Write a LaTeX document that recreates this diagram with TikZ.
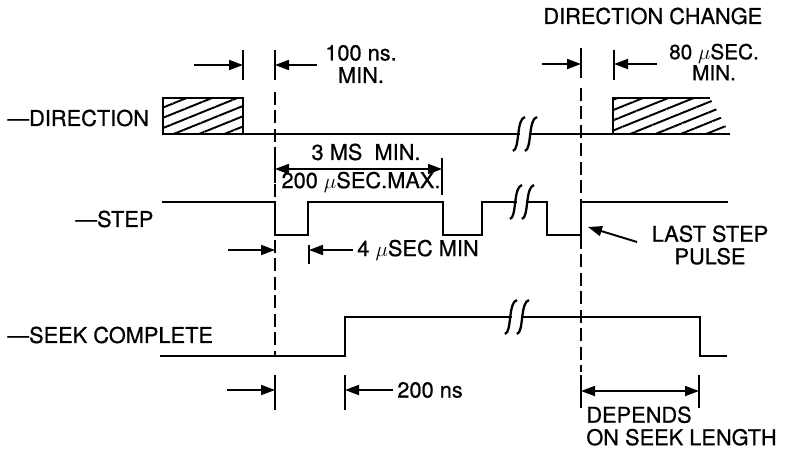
\documentclass[tikz,border=0pt]{standalone}
\usepackage{fontspec}
\setmainfont{TeX Gyre Heros}[FakeBold=0.7]
\usepackage{tikz}
\usetikzlibrary{arrows.meta}
\usetikzlibrary{patterns.meta}
\tikzset{
 sig/.style = {line width=1.3pt},
 tick/.style = {line width=1.3pt},
 guide/.style = {line width=1.3pt, dash pattern=on 0.26cm off 0.11cm},
 dimto/.style = {line width=1.1pt, -{Triangle[length=0.28cm,width=0.2cm]}},
 dimboth/.style = {line width=1.1pt, {Triangle[length=0.28cm,width=0.2cm]}-{Triangle[length=0.28cm,width=0.2cm]}},
 lbl/.style = {font=\fontsize{12.4}{12.8}\selectfont, inner sep=0pt},
 hatched/.style = {pattern={Lines[angle=22,distance=0.19cm,line width=1.1pt]}}
}
\newcommand*{\sigbreak}[2]{
 \fill[white] ({#1+1},{#2-3}) rectangle ({#1+11},{#2+3});
 \draw[sig] ({#1-6},{#2+17}) .. controls ({#1+1},{#2+15}) and ({#1-3},{#2-15}) .. ({#1+6},{#2-17});
 \draw[sig] ({#1+6},{#2+17}) .. controls ({#1+13},{#2+15}) and ({#1+9},{#2-15}) .. ({#1+18},{#2-17});
}

\begin{document}
\begin{tikzpicture}[x=0.02cm, y=-0.02cm]
\useasboundingbox (0,0) rectangle (787,450);

\node[lbl, anchor=west] (dirlbl) at (7,118) {—DIRECTION};
\node[lbl, anchor=west] (steplbl) at (75,219) {—STEP};
\node[lbl, anchor=west] (seeklbl) at (7,335) {—SEEK COMPLETE};

\fill[hatched] (163,98) rectangle (243,134);
\draw[sig] (163,98) rectangle (243,134);
\fill[hatched] (613,134) -- (613,98) -- (710,98) -- (730,134) -- cycle;
\draw[sig] (613,134) -- (613,98) -- (710,98);
\draw[sig] (163,134) -- (730,134);
\sigbreak{519}{134}

\draw[sig] (162,202) -| (275,235) -| (308,202) -| (443,235) -| (482,202) -| (547,235) -| (581,202) -- (728,202);
\sigbreak{516}{202}

\draw[sig] (160,356) -| (345,317) -| (700,356) -- (727,356);
\sigbreak{511}{317}

\draw[guide] (275,92) -- (275,356);
\draw[guide] (581,88) -- (581,372);

\draw[tick] (243,50) -- (243,80);
\draw[tick] (275,50) -- (275,80);
\draw[tick] (581,48) -- (581,78);
\draw[tick] (614,50) -- (614,80);
\coordinate (dirend) at (243,65);
\coordinate (guideA) at (275,65);
\coordinate (guideB) at (581,64);
\coordinate (dirnew) at (614,64);
\draw[dimto] (194,65) -- (dirend);
\draw[dimto] (317,65) -- (guideA);
\draw[dimto] (542,64) -- (guideB);
\draw[dimto] (657,64) -- (dirnew);
\node[lbl, align=center] (nslbl) at (361,64) {100 ns.\\MIN.};
\node[lbl, align=center, font=\fontsize{11.8}{10}\selectfont] (uslbl) at (714,62) {80 $\mu$SEC.\\MIN.};
\node[lbl, anchor=west] (chglbl) at (543,16) {DIRECTION CHANGE};

\draw[tick] (275,158) -- (275,183);
\draw[tick] (442,158) -- (442,195);
\coordinate (stepA) at (275,169);
\coordinate (stepB) at (442,169);
\draw[dimboth] (stepA) -- (stepB);
\node[lbl] (mslbl) at (366,152) {3 MS\ \ MIN.};
\node[lbl] (maxlbl) at (361,182) {200 $\mu$SEC.MAX.};

\draw[tick] (309,245) -- (309,264);
\coordinate (pulseA) at (275,250);
\coordinate (pulseB) at (309,250);
\draw[dimto] (228,250) -- (pulseA);
\draw[dimto] (353,250) -- (pulseB);
\node[lbl, anchor=west] (widlbl) at (357,250) {4 $\mu$SEC MIN};

\node[lbl, align=center] (lastlbl) at (710,245) {LAST STEP\\PULSE};
\coordinate (lastedge) at (588,227);
\draw[dimto] (637,242) -- (lastedge);

\draw[tick] (275,375) -- (275,410);
\draw[tick] (345,375) -- (345,410);
\draw[tick] (581,375) -- (581,408);
\draw[tick] (699,375) -- (699,408);
\coordinate (seekA) at (275,390);
\coordinate (seekB) at (345,390);
\coordinate (seekC) at (581,391);
\coordinate (seekD) at (699,391);
\draw[dimto] (227,390) -- (seekA);
\draw[dimto] (393,390) -- (seekB);
\draw[dimboth] (seekC) -- (seekD);
\node[lbl, anchor=west] (nslbl2) at (397,390) {200 ns};
\node[lbl, align=left, anchor=west] (lenlbl) at (586,426) {DEPENDS\\ON SEEK LENGTH};
\end{tikzpicture}
\end{document}
